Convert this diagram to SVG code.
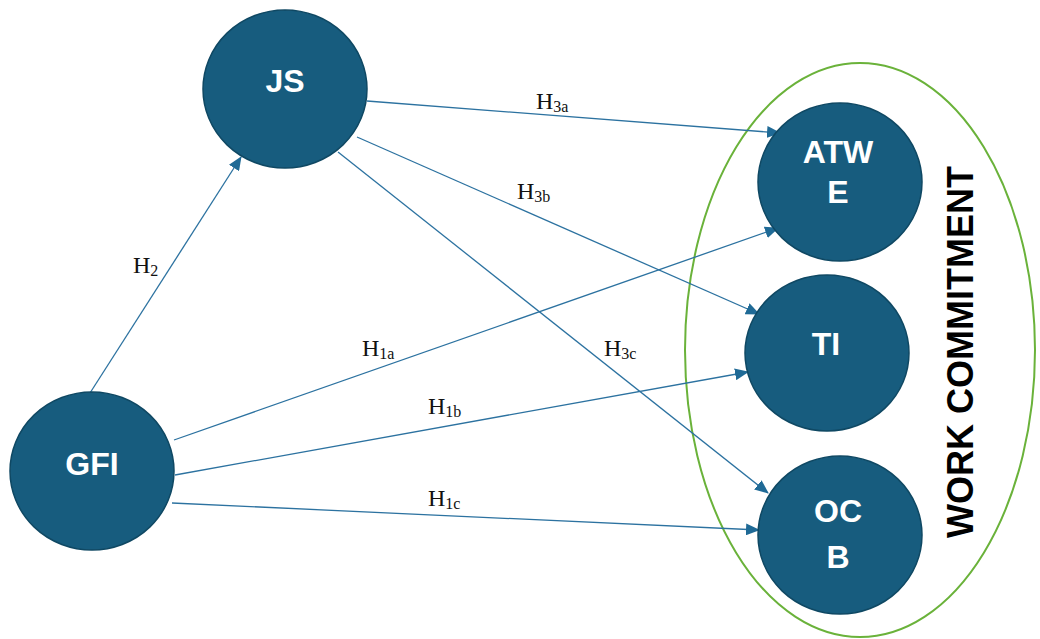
<svg xmlns="http://www.w3.org/2000/svg" width="1040" height="639" viewBox="0 0 1040 639">
<style>
.node{fill:#175C7E;stroke:#0F4863;stroke-width:1.5}
.nl{font-family:"Liberation Sans",Arial,sans-serif;font-weight:bold;font-size:32px;fill:#fff;text-anchor:middle}
.edge{stroke:#2C72A0;stroke-width:1.3;fill:none;marker-end:url(#ah)}
.el{font-family:"Liberation Serif","Times New Roman",serif;font-size:24px;fill:#111}
.sub{font-size:16px}
</style>
<defs>
<marker id="ah" markerUnits="userSpaceOnUse" markerWidth="14" markerHeight="12" refX="13" refY="6" orient="auto">
<path d="M0,0 L14,6 L0,12 Z" fill="#1F6A96"/>
</marker>
</defs>
<rect width="1040" height="639" fill="#fff"/>
<g id="group-work-commitment">
<ellipse cx="860" cy="350" rx="175" ry="287" fill="none" stroke="#6AB23A" stroke-width="2"/>
<text transform="translate(973,352) rotate(-90)" font-family="'Liberation Sans',Arial,sans-serif" font-weight="bold" font-size="36" text-anchor="middle" fill="#000">WORK COMMITMENT</text>
</g>
<g id="connectors">
<line class="edge" x1="90" y1="393" x2="241" y2="157"/>
<line class="edge" x1="367" y1="101" x2="780" y2="133"/>
<line class="edge" x1="357" y1="137" x2="759" y2="314"/>
<line class="edge" x1="338" y1="152" x2="768" y2="493"/>
<line class="edge" x1="174" y1="440" x2="778" y2="228"/>
<line class="edge" x1="175" y1="475" x2="748" y2="372"/>
<line class="edge" x1="172" y1="503" x2="759" y2="530"/>
<text class="el" x="133" y="273">H<tspan class="sub" dy="3">2</tspan></text>
<text class="el" x="536" y="109">H<tspan class="sub" dy="3">3a</tspan></text>
<text class="el" x="517" y="199">H<tspan class="sub" dy="3">3b</tspan></text>
<text class="el" x="604" y="356">H<tspan class="sub" dy="3">3c</tspan></text>
<text class="el" x="362" y="356">H<tspan class="sub" dy="3">1a</tspan></text>
<text class="el" x="428" y="414">H<tspan class="sub" dy="3">1b</tspan></text>
<text class="el" x="428" y="506">H<tspan class="sub" dy="3">1c</tspan></text>
</g>
<g id="node-js">
<ellipse class="node" cx="285" cy="89" rx="82" ry="79"/>
<text class="nl" x="285" y="92">JS</text>
</g>
<g id="node-gfi">
<ellipse class="node" cx="92" cy="471" rx="82" ry="79"/>
<text class="nl" x="92" y="475" font-size="34">GFI</text>
</g>
<g id="node-atwe">
<ellipse class="node" cx="840" cy="182" rx="82" ry="79"/>
<text class="nl" x="838" y="163">ATW</text>
<text class="nl" x="838" y="203">E</text>
</g>
<g id="node-ti">
<ellipse class="node" cx="827" cy="353" rx="82" ry="78"/>
<text class="nl" x="826" y="355" font-size="34">TI</text>
</g>
<g id="node-ocb">
<ellipse class="node" cx="840" cy="535" rx="82" ry="79"/>
<text class="nl" x="838" y="522">OC</text>
<text class="nl" x="838" y="568">B</text>
</g>
</svg>
